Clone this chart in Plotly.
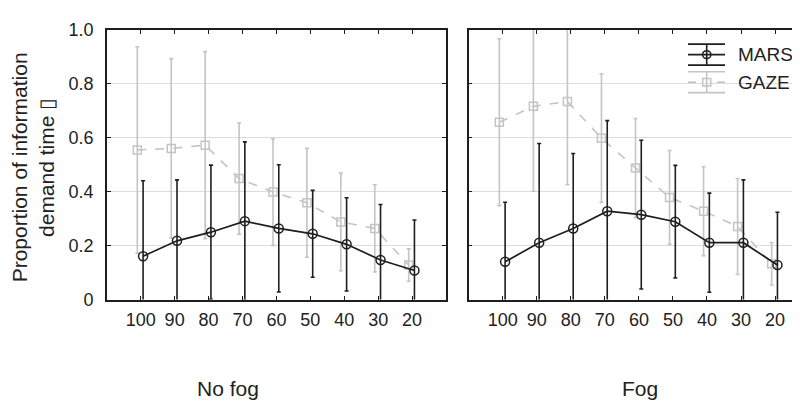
import plotly.graph_objects as go

categories = ["100", "90", "80", "70", "60", "50", "40", "30", "20"]

mars_nofog = [0.161, 0.218, 0.250, 0.291, 0.264, 0.244, 0.205, 0.147, 0.108]
mars_nofog_err = [0.280, 0.226, 0.249, 0.294, 0.236, 0.161, 0.173, 0.206, 0.187]
gaze_nofog = [0.555, 0.561, 0.573, 0.449, 0.399, 0.359, 0.288, 0.264, 0.128]
gaze_nofog_err = [0.383, 0.333, 0.347, 0.206, 0.198, 0.202, 0.181, 0.162, 0.060]

mars_fog = [0.140, 0.211, 0.264, 0.328, 0.315, 0.289, 0.211, 0.211, 0.128]
mars_fog_err = [0.221, 0.368, 0.278, 0.336, 0.276, 0.209, 0.184, 0.233, 0.196]
gaze_fog = [0.658, 0.717, 0.735, 0.599, 0.488, 0.379, 0.328, 0.271, 0.133]
gaze_fog_err = [0.310, 0.315, 0.309, 0.239, 0.184, 0.174, 0.165, 0.178, 0.079]

series_names = ["MARS", "GAZE"]

pos = list(range(1, len(categories) + 1))
MARS_SHIFT = 0.07
GAZE_SHIFT = -0.1

BLACK = "#1e1e1e"
GRAY = "#c4c4c4"
FONT = "Liberation Sans"

# page body has an 8px margin: figure px = screen px - 8
OFF = 8
W, H = 800, 410

def fx(px):
    return (px - OFF) / W

def fy(py):
    return (H - (py - OFF)) / H

fig = go.Figure()

def add_series(xaxis, yaxis, mars, mars_err, gaze, gaze_err):
    fig.add_trace(go.Scatter(
        x=[p + GAZE_SHIFT for p in pos], y=gaze, xaxis=xaxis, yaxis=yaxis,
        mode="lines+markers", name=series_names[1], showlegend=False,
        line=dict(color=GRAY, width=1.6, dash="dash"),
        marker=dict(symbol="square-open", size=8, color=GRAY, line=dict(width=1.5, color=GRAY)),
        error_y=dict(type="data", array=gaze_err, visible=True, color=GRAY, thickness=1.6, width=2),
    ))
    fig.add_trace(go.Scatter(
        x=[p + MARS_SHIFT for p in pos], y=mars, xaxis=xaxis, yaxis=yaxis,
        mode="lines+markers", name=series_names[0], showlegend=False,
        line=dict(color=BLACK, width=1.7),
        marker=dict(symbol="circle-open", size=9, color=BLACK, line=dict(width=1.5, color=BLACK)),
        error_y=dict(type="data", array=mars_err, visible=True, color=BLACK, thickness=1.6, width=2),
    ))

add_series("x", "y", mars_nofog, mars_nofog_err, gaze_nofog, gaze_nofog_err)
add_series("x2", "y2", mars_fog, mars_fog_err, gaze_fog, gaze_fog_err)

ydom = [fy(304), fy(20.7)]

xcommon = dict(tickmode="array", tickvals=pos, ticktext=categories, ticks="inside", ticklen=4,
               tickcolor=BLACK, showline=True, linecolor=BLACK, linewidth=1.5, mirror="ticks",
               showgrid=False, zeroline=False, tickfont=dict(family=FONT, size=18, color="#222"),
               ticklabelstandoff=3)
ycommon = dict(range=[0, 1], tickmode="array", tickvals=[0, 0.2, 0.4, 0.6, 0.8, 1.0],
               ticktext=["0", "0.2", "0.4", "0.6", "0.8", "1.0"], ticks="inside", ticklen=4,
               tickcolor=BLACK, showline=True, linecolor=BLACK, linewidth=1.5,
               showgrid=True, gridcolor="#dcdcdc", gridwidth=1, zeroline=False,
               tickfont=dict(family=FONT, size=18, color="#222"), domain=ydom,
               ticklabelstandoff=8)

# ---- custom legend glyphs (error-bar style), in paper coordinates ----
shapes = []

def seg(x0, y0, x1, y1, color, dash="solid", width=1.6):
    shapes.append(dict(type="line", xref="paper", yref="paper",
                       x0=fx(x0), y0=fy(y0), x1=fx(x1), y1=fy(y1),
                       line=dict(color=color, width=width, dash=dash)))

gx0, gx1, gxc = 688, 725, 706.7
# MARS
my = 46.5
seg(gx0, my - 11, gx1, my - 11, BLACK)
seg(gx0, my, gx1, my, BLACK)
seg(gx0, my + 11, gx1, my + 11, BLACK)
seg(gxc, my - 11, gxc, my + 11, BLACK)
shapes.append(dict(type="circle", xref="paper", yref="paper",
                   x0=fx(gxc - 4.2), x1=fx(gxc + 4.2), y0=fy(my - 4.2), y1=fy(my + 4.2),
                   line=dict(color=BLACK, width=1.5)))
# GAZE
gy = 75.5
seg(gx0, gy - 11, gx1, gy - 11, GRAY)
seg(gx0, gy, gx0 + 8, gy, GRAY)
seg(gx1 - 8, gy, gx1, gy, GRAY)
seg(gxc, gy - 11, gxc, gy + 11, GRAY)
seg(gx0, gy + 11, gx1, gy + 11, GRAY)
shapes.append(dict(type="rect", xref="paper", yref="paper",
                   x0=fx(gxc - 4), x1=fx(gxc + 4), y0=fy(gy - 4), y1=fy(gy + 4),
                   line=dict(color=GRAY, width=1.5)))

fig.update_layout(
    width=W, height=H,
    margin=dict(l=0, r=0, t=0, b=0),
    paper_bgcolor="white", plot_bgcolor="white",
    xaxis=dict(xcommon, domain=[fx(106.8), fx(446)], range=[0, 10]),
    yaxis=dict(ycommon, mirror="ticks"),
    xaxis2=dict(xcommon, domain=[fx(468.7), 1.0], range=[0, (W + OFF - 468.7) / 34.04]),
    yaxis2=dict(ycommon, anchor="x2", showticklabels=False, mirror=False),
    showlegend=False,
    shapes=shapes,
    annotations=[
        dict(text=series_names[0], x=fx(736), y=fy(my), xref="paper", yref="paper",
             xanchor="left", yanchor="middle", showarrow=False,
             font=dict(family=FONT, size=19, color="#222")),
        dict(text=series_names[1], x=fx(736), y=fy(gy), xref="paper", yref="paper",
             xanchor="left", yanchor="middle", showarrow=False,
             font=dict(family=FONT, size=19, color="#222")),
        dict(text="Proportion of information<br>demand time \u25af", x=fx(33), y=fy(165),
             xref="paper", yref="paper", xanchor="center", yanchor="middle",
             textangle=-90, showarrow=False,
             font=dict(family=FONT, size=21, color="#222")),
        dict(text="No fog", x=fx(228), y=fy(397), xref="paper", yref="paper",
             xanchor="center", yanchor="middle",
             showarrow=False, font=dict(family=FONT, size=21, color="#222")),
        dict(text="Fog", x=fx(640), y=fy(397), xref="paper", yref="paper",
             xanchor="center", yanchor="middle",
             showarrow=False, font=dict(family=FONT, size=21, color="#222")),
    ],
)

fig.write_html("out.html")
